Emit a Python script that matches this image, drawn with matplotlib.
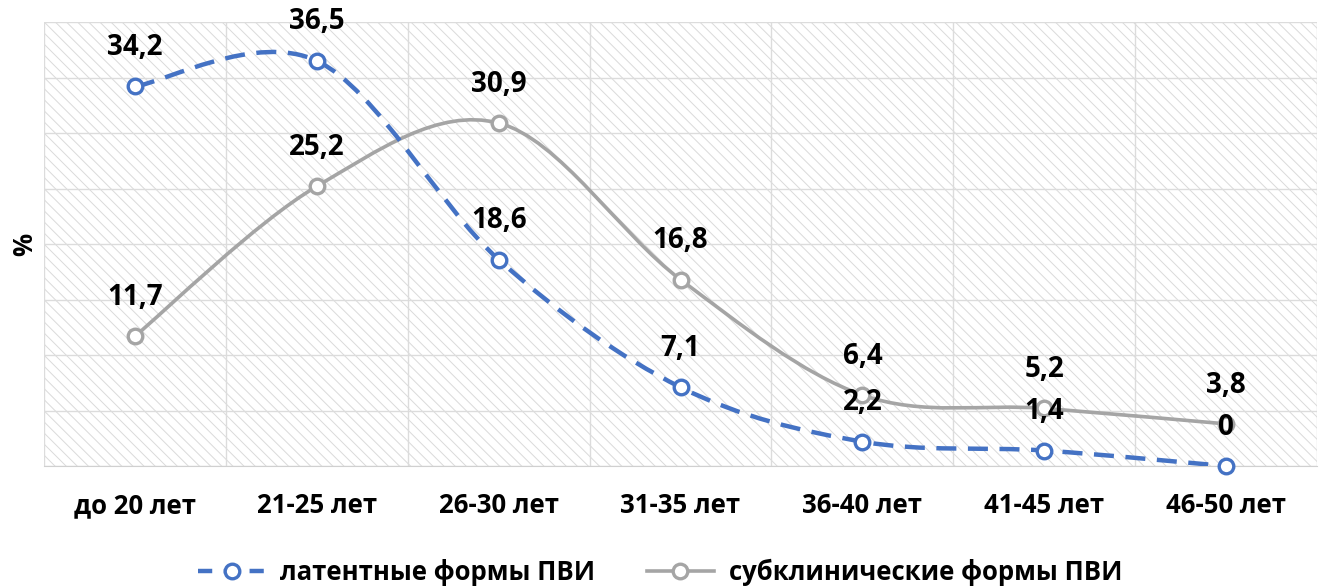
# Age distribution of latent / subclinical HPV forms

import numpy as np
import matplotlib.pyplot as plt
from matplotlib.path import Path
from matplotlib.patches import PathPatch
from matplotlib.lines import Line2D

plt.rcParams["font.family"] = ["Open Sans", "DejaVu Sans"]
plt.rcParams["hatch.color"] = "#dadada"
plt.rcParams["hatch.linewidth"] = 0.7

categories = ["до 20 лет", "21-25 лет", "26-30 лет", "31-35 лет", "36-40 лет", "41-45 лет", "46-50 лет"]
latent = [34.2, 36.5, 18.6, 7.1, 2.2, 1.4, 0]
subclinical = [11.7, 25.2, 30.9, 16.8, 6.4, 5.2, 3.8]
latent_labels = ["34,2", "36,5", "18,6", "7,1", "2,2", "1,4", "0"]
subclinical_labels = ["11,7", "25,2", "30,9", "16,8", "6,4", "5,2", "3,8"]


def smooth_path(xs, ys):
    # excel-like smoothed line: cubic bezier with catmull-rom control points
    pts = np.column_stack([xs, ys]).astype(float)
    n = len(pts)
    verts = [pts[0]]
    codes = [Path.MOVETO]
    for i in range(n - 1):
        p0 = pts[max(i - 1, 0)]
        p1 = pts[i]
        p2 = pts[i + 1]
        p3 = pts[min(i + 2, n - 1)]
        c1 = p1 + (p2 - p0) / 6
        c2 = p2 - (p3 - p1) / 6
        verts += [c1, c2, p2]
        codes += [Path.CURVE4] * 3
    return Path(verts, codes)


x = np.arange(len(categories))
blue = "#4472c4"
gray = "#a5a5a5"
fs = 18.5
lab_fs = 20
dash = (0, (4.5, 2.6))

fig = plt.figure(figsize=(13.21, 5.87), dpi=100)
ax = fig.add_axes([0.0333, 0.206, 0.9637, 0.7565])

ax.patch.set_facecolor("white")
ax.patch.set_hatch("\\\\\\")
ax.patch.set_edgecolor("#dadada")

ax.set_xlim(-0.5, len(categories) - 0.5)
ax.set_ylim(0, 40)
ax.set_yticks(np.arange(0, 41, 5))
ax.set_xticks(np.arange(-0.5, len(categories), 0.5), minor=True)
ax.set_xticks(x)
ax.set_xticklabels(categories, fontsize=fs, fontweight="bold")
ax.tick_params(axis="y", length=0, labelleft=False)
ax.tick_params(axis="x", which="both", length=0, pad=19)
ax.grid(True, axis="y", color="#dcdcdc", linewidth=1)
ax.grid(True, axis="x", which="minor", color="#dcdcdc", linewidth=1)
ax.set_axisbelow(True)
for side in ["top", "right", "left"]:
    ax.spines[side].set_visible(False)
ax.spines["bottom"].set_color("#d0d0d0")
ax.set_ylabel("%", fontsize=fs, fontweight="bold", labelpad=4)

ax.add_patch(PathPatch(smooth_path(x, subclinical), fill=False, edgecolor=gray,
                       linewidth=2.6, zorder=3))
ax.add_patch(PathPatch(smooth_path(x, latent), fill=False, edgecolor=blue,
                       linewidth=3.2, linestyle=dash, zorder=4))
ax.plot(x, subclinical, linestyle="none", marker="o", markersize=10.5,
        markerfacecolor="white", markeredgecolor=gray, markeredgewidth=2.4,
        zorder=5, clip_on=False)
ax.plot(x, latent, linestyle="none", marker="o", markersize=10.5,
        markerfacecolor="white", markeredgecolor=blue, markeredgewidth=2.4,
        zorder=6, clip_on=False)

for xi, yi, lab in zip(x, latent, latent_labels):
    ax.annotate(lab, (xi, yi), xytext=(0, 28), textcoords="offset points",
                ha="center", va="center", fontsize=lab_fs, fontweight="bold", zorder=7)
for xi, yi, lab in zip(x, subclinical, subclinical_labels):
    ax.annotate(lab, (xi, yi), xytext=(0, 28), textcoords="offset points",
                ha="center", va="center", fontsize=lab_fs, fontweight="bold", zorder=7)

handles = [
    Line2D([], [], color=blue, linewidth=3.2, linestyle=(0, (3.2, 2.6)), marker="o",
           markersize=10.5, markerfacecolor="white", markeredgecolor=blue, markeredgewidth=2.4),
    Line2D([], [], color=gray, linewidth=2.6, marker="o", markersize=10.5,
           markerfacecolor="white", markeredgecolor=gray, markeredgewidth=2.4),
]
fig.legend(handles, ["латентные формы ПВИ", "субклинические формы ПВИ"],
           loc="center", bbox_to_anchor=(0.5, 0.025), ncol=2, frameon=False,
           prop={"size": fs, "weight": "bold"}, handlelength=2.6, handletextpad=0.6,
           columnspacing=2)

plt.savefig("out.png", dpi=100)
